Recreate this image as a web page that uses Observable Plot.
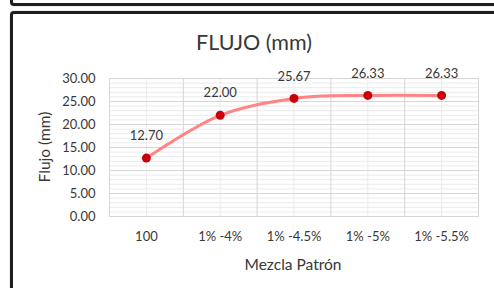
<!DOCTYPE html>
<html>
<head>
<meta charset="utf-8">
<script src="https://cdn.jsdelivr.net/npm/d3@7"></script>
<script src="https://cdn.jsdelivr.net/npm/@observablehq/plot@0.6"></script>
<style>
  html, body { margin: 0; padding: 0; background: #fff; }
  #wrap { position: relative; width: 494px; height: 288px; overflow: hidden; font-family: Lato, "Open Sans", sans-serif; color: #383838; }
  .box { position: absolute; border: 3px solid #1e1e1e; border-radius: 4px; box-shadow: 0 0 1px #555; }
  .lbl { position: absolute; white-space: nowrap; color: #383838; }
  svg { position: absolute; left: 0; top: 0; }
</style>
</head>
<body>
<div id="wrap">
  <div class="box" style="left:10px; top:-40px; width:600px; height:40px;"></div>
  <div class="box" style="left:10px; top:11px; width:600px; height:400px;"></div>
  <div id="chart"></div>
  <div class="lbl" id="title" style="left:254px; top:42px; transform:translate(-50%,-50%); font-size:21.5px;">FLUJO (mm)</div>
  <div class="lbl" id="xlabel" style="left:293px; top:264px; transform:translate(-50%,-50%); font-size:15.5px;">Mezcla Patrón</div>
  <div class="lbl" id="ylabel" style="left:44px; top:147px; transform:translate(-50%,-50%) rotate(-90deg); font-size:15.5px;">Flujo (mm)</div>
</div>
<script>
const categories = ["100", "1% -4%", "1% -4.5%", "1% -5%", "1% -5.5%"];
const flujo = [12.70, 22.00, 25.67, 26.33, 26.33];
const yTicks = [0, 5, 10, 15, 20, 25, 30];

const data = categories.map((c, i) => ({i, c, v: flujo[i]}));
const idx = categories.map((c, i) => i);
const bounds = d3.range(-0.5, categories.length, 1);
const minorY = d3.range(0, 30.01, 1);

const chart = Plot.plot({
  width: 494,
  height: 288,
  marginLeft: 109,
  marginRight: 16,
  marginTop: 78,
  marginBottom: 72,
  style: {fontFamily: "Lato, 'Open Sans', sans-serif", fontSize: "13px", color: "#383838", background: "transparent"},
  x: {domain: [-0.5, categories.length - 0.5], ticks: idx, tickFormat: i => categories[i], tickSize: 0, tickPadding: 15, label: null},
  y: {domain: [0, 30], ticks: yTicks, tickFormat: d3.format(".2f"), tickSize: 0, tickPadding: 14, label: null},
  marks: [
    Plot.ruleY(minorY, {stroke: "#ebebeb", strokeWidth: 1}),
    Plot.ruleX(idx, {stroke: "#ebebeb", strokeWidth: 1}),
    Plot.ruleY(yTicks, {stroke: "#d6d6d6", strokeWidth: 1}),
    Plot.ruleX(bounds, {stroke: "#d6d6d6", strokeWidth: 1}),
    Plot.frame({stroke: "#d6d6d6"}),
    Plot.line(data, {x: "i", y: "v", curve: "catmull-rom", stroke: "#ff8585", strokeWidth: 3}),
    Plot.dot(data, {x: "i", y: "v", r: 4.5, fill: "#c8000a", stroke: "none"}),
    Plot.text(data, {x: "i", y: "v", text: d => d3.format(".2f")(d.v), dy: -22, fontSize: 13, fill: "#383838"})
  ]
});
document.getElementById("chart").appendChild(chart);
</script>
</body>
</html>
